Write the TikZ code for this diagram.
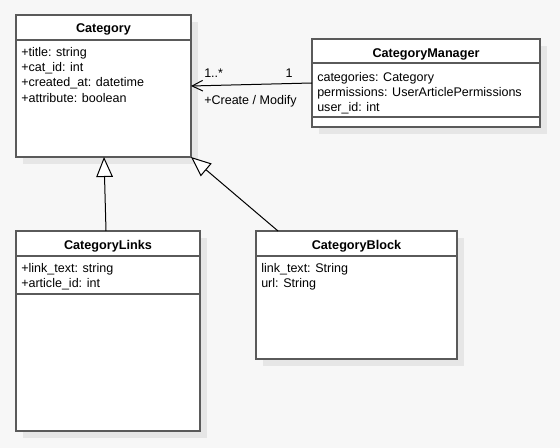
\documentclass[tikz,border=0pt]{standalone}
\usepackage{fontspec}
\setmainfont{Liberation Sans}
\usetikzlibrary{arrows.meta,shadows}
\definecolor{bgc}{HTML}{F7F7F7}
\definecolor{shc}{HTML}{E6E6E6}
\definecolor{bdc}{HTML}{5A5A5A}
\begin{document}
\begin{tikzpicture}[x=0.75pt,y=-0.75pt,
  umlbox/.style={draw=bdc,line width=1pt,fill=white,anchor=north west,inner sep=0pt,outer sep=0pt,
    drop shadow={shadow xshift=5.25pt,shadow yshift=-5.25pt,fill=shc,opacity=1}},
  sep/.style={draw=bdc,line width=1pt},
  ttl/.style={font=\fontsize{9.5}{11}\selectfont\bfseries,anchor=center,inner sep=0pt},
  attr/.style={font=\fontsize{9.4}{11}\selectfont,anchor=west,inner sep=0pt},
  lbl/.style={font=\fontsize{9.4}{11}\selectfont,inner sep=0pt},
  conn/.style={draw=black,line width=0.75pt},
  gen/.style={conn,-{Triangle[fill=white,length=15pt,width=12.5pt]}},
  assoc/.style={conn,-{Straight Barb[length=8pt,width=8pt]}}
]
\useasboundingbox[fill=bgc] (0,0) rectangle (560,448);

% Category
\node[umlbox,minimum width=131.25pt,minimum height=106.5pt] (cat) at (16,15) {};
\draw[sep] (16,40) -- (191,40);
\node[ttl] (catT) at (103.5,29) {Category};
\node[attr] (catA1) at (21,53) {+title: string};
\node[attr] (catA2) at (21,68) {+cat\_id: int};
\node[attr] (catA3) at (21,83) {+created\_at: datetime};
\node[attr] (catA4) at (21,98) {+attribute: boolean};

% CategoryManager
\node[umlbox,minimum width=171pt,minimum height=66pt] (mgr) at (312,39) {};
\draw[sep] (312,63) -- (540,63);
\draw[sep] (312,117) -- (540,117);
\node[ttl] (mgrT) at (426,54) {CategoryManager};
\node[attr] (mgrA1) at (317,78) {categories: Category};
\node[attr] (mgrA2) at (317,93) {permissions: UserArticlePermissions};
\node[attr] (mgrA3) at (317,108) {user\_id: int};

% CategoryLinks
\node[umlbox,minimum width=138pt,minimum height=150pt] (links) at (16,231) {};
\draw[sep] (16,256) -- (200,256);
\draw[sep] (16,294) -- (200,294);
\node[ttl] (linksT) at (108,246) {CategoryLinks};
\node[attr] (linksA1) at (21,269) {+link\_text: string};
\node[attr] (linksA2) at (21,284) {+article\_id: int};

% CategoryBlock
\node[umlbox,minimum width=150.75pt,minimum height=96pt] (block) at (256,231) {};
\draw[sep] (256,256) -- (457,256);
\node[ttl] (blockT) at (356.5,246) {CategoryBlock};
\node[attr] (blockA1) at (261,269) {link\_text: String};
\node[attr] (blockA2) at (261,284) {url: String};

% connectors
\draw[assoc] (mgr.west) -- (cat.east);
\node[lbl,anchor=west] (m1) at (204,73) {1..*};
\node[lbl] (m2) at (289,73) {1};
\node[lbl,anchor=west] (role) at (204,101) {+Create / Modify};

\coordinate (lnkTop) at (106,231);
\coordinate (catB1) at (104,157);
\draw[gen] (lnkTop) -- (catB1);
\coordinate (blkTop) at (278,231);
\draw[gen] (blkTop) -- (cat.south east);
\end{tikzpicture}
\end{document}
